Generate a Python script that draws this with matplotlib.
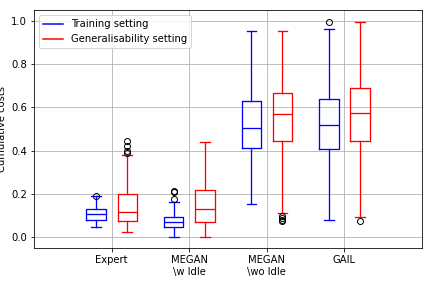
import matplotlib
matplotlib.use("Agg")
import matplotlib.pyplot as plt
from matplotlib.lines import Line2D

categories = ["Expert", "MEGAN\n\\w Idle", "MEGAN\n\\wo Idle", "GAIL"]

# training setting stats: (whislo, q1, med, q3, whishi, fliers)
train_whislo = [0.049, 0.0, 0.155, 0.081]
train_q1 = [0.081, 0.045, 0.413, 0.409]
train_med = [0.106, 0.068, 0.507, 0.519]
train_q3 = [0.128, 0.095, 0.630, 0.639]
train_whishi = [0.188, 0.163, 0.952, 0.962]
train_fliers = [[0.192], [0.175, 0.210, 0.215], [], [0.996]]

gen_whislo = [0.026, 0.0, 0.114, 0.091]
gen_q1 = [0.077, 0.068, 0.446, 0.446]
gen_med = [0.118, 0.128, 0.570, 0.575]
gen_q3 = [0.200, 0.218, 0.667, 0.690]
gen_whishi = [0.379, 0.442, 0.952, 0.996]
gen_fliers = [[0.390, 0.400, 0.420, 0.445], [], [0.100, 0.090, 0.080, 0.075], [0.077]]


def make_stats(lo, q1, med, q3, hi, fl):
    return [dict(whislo=a, q1=b, med=c, q3=d, whishi=e, fliers=f)
            for a, b, c, d, e, f in zip(lo, q1, med, q3, hi, fl)]


fig = plt.figure(figsize=(6, 4), dpi=72)
ax = fig.add_axes([0.079, 0.139, 0.898, 0.826])

pos = [1, 2, 3, 4]


def draw(stats, positions, color):
    ax.bxp(stats, positions=positions, widths=0.25, manage_ticks=False,
           boxprops=dict(color=color, linewidth=1.3),
           whiskerprops=dict(color=color, linewidth=1.3),
           capprops=dict(color=color, linewidth=1.3),
           medianprops=dict(color=color, linewidth=1.3),
           flierprops=dict(marker='o', markerfacecolor='none',
                           markeredgecolor='black', markersize=6))


draw(make_stats(train_whislo, train_q1, train_med, train_q3, train_whishi, train_fliers),
     [p - 0.2 for p in pos], 'blue')
draw(make_stats(gen_whislo, gen_q1, gen_med, gen_q3, gen_whishi, gen_fliers),
     [p + 0.2 for p in pos], 'red')

ax.set_xlim(0, 5)
ax.set_ylim(-0.05, 1.05)
ax.set_xticks(pos)
ax.set_xticklabels(categories)
ax.set_yticks([0.0, 0.2, 0.4, 0.6, 0.8, 1.0])
ax.grid(True, color='#b0b0b0')
ax.set_axisbelow(True)
ax.set_ylabel("Cumulative costs")

handles = [Line2D([], [], color='blue'), Line2D([], [], color='red')]
ax.legend(handles, ["Training setting", "Generalisability setting"], loc='upper left')

fig.savefig("out.png", dpi=72)
